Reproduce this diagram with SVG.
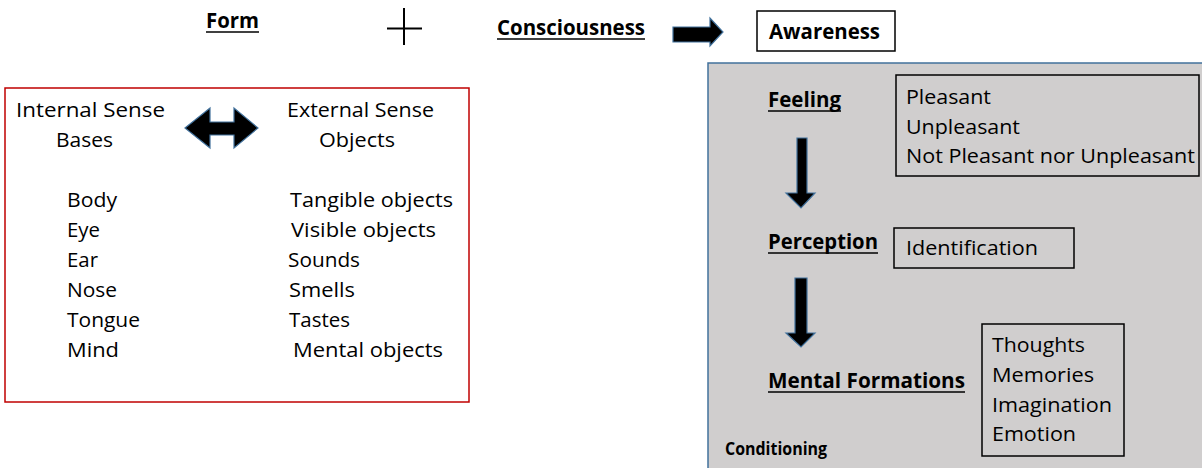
<svg xmlns="http://www.w3.org/2000/svg" width="1202" height="468" viewBox="0 0 1202 468">
<style>
.t{font-family:"Open Sans","Liberation Sans",sans-serif;font-size:20.5px;fill:#000}
.b{font-family:"Open Sans","Liberation Sans",sans-serif;font-size:21px;font-weight:bold;fill:#000}
.ul{stroke:#000;stroke-width:1.5}
.arr{fill:#000;stroke:#41719C;stroke-width:1.2}
.box{fill:none;stroke:#000;stroke-width:1.5}
</style>
<rect width="1202" height="468" fill="#fff"/>
<g id="form">
<text class="b" x="206" y="28" textLength="53" lengthAdjust="spacingAndGlyphs">Form</text>
<line class="ul" x1="206" y1="32" x2="259" y2="32"/>
</g>
<g id="plus">
<line x1="387" y1="28.5" x2="422" y2="28.5" stroke="#000" stroke-width="2"/>
<line x1="404" y1="8" x2="404" y2="45" stroke="#000" stroke-width="2"/>
</g>
<g id="consciousness">
<text class="b" x="497" y="35" textLength="148" lengthAdjust="spacingAndGlyphs">Consciousness</text>
<line class="ul" x1="497" y1="39" x2="645" y2="39"/>
</g>
<g id="awareness">
<rect class="box" x="757" y="11" width="138" height="40" fill="#fff"/>
<text class="b" x="769" y="39" textLength="111" lengthAdjust="spacingAndGlyphs">Awareness</text>
</g>
<g id="sense">
<rect x="5" y="88" width="464" height="314" fill="none" stroke="#C00000" stroke-width="1.5"/>
<text class="t" x="16" y="117" textLength="149" lengthAdjust="spacingAndGlyphs">Internal  Sense</text>
<text class="t" x="56" y="147" textLength="57" lengthAdjust="spacingAndGlyphs">Bases</text>
<text class="t" x="287" y="117" textLength="147" lengthAdjust="spacingAndGlyphs">External Sense</text>
<text class="t" x="319" y="147" textLength="76" lengthAdjust="spacingAndGlyphs">Objects</text>
<text class="t" x="67" y="207" textLength="50" lengthAdjust="spacingAndGlyphs">Body</text>
<text class="t" x="67" y="237" textLength="33" lengthAdjust="spacingAndGlyphs">Eye</text>
<text class="t" x="67" y="267" textLength="31" lengthAdjust="spacingAndGlyphs">Ear</text>
<text class="t" x="67" y="297" textLength="50" lengthAdjust="spacingAndGlyphs">Nose</text>
<text class="t" x="67" y="327" textLength="73" lengthAdjust="spacingAndGlyphs">Tongue</text>
<text class="t" x="67" y="357" textLength="52" lengthAdjust="spacingAndGlyphs">Mind</text>
<text class="t" x="290" y="207" textLength="163" lengthAdjust="spacingAndGlyphs">Tangible objects</text>
<text class="t" x="291" y="237" textLength="145" lengthAdjust="spacingAndGlyphs">Visible objects</text>
<text class="t" x="288" y="267" textLength="72" lengthAdjust="spacingAndGlyphs">Sounds</text>
<text class="t" x="289" y="297" textLength="66" lengthAdjust="spacingAndGlyphs">Smells</text>
<text class="t" x="289" y="327" textLength="61" lengthAdjust="spacingAndGlyphs">Tastes</text>
<text class="t" x="293" y="357" textLength="150" lengthAdjust="spacingAndGlyphs">Mental objects</text>
</g>
<g id="aggregates">
<rect x="708" y="63" width="500" height="410" fill="#D0CECE" stroke="#41719C" stroke-width="1.5"/>
</g>
<g id="feeling">
<text class="b" x="768" y="106.5" textLength="73" lengthAdjust="spacingAndGlyphs">Feeling</text>
<line class="ul" x1="768" y1="111" x2="841" y2="111"/>
</g>
<g id="feeling-types">
<rect class="box" x="896" y="75" width="303" height="101"/>
<text class="t" x="906" y="103.5" textLength="85" lengthAdjust="spacingAndGlyphs">Pleasant</text>
<text class="t" x="906" y="133.5" textLength="114" lengthAdjust="spacingAndGlyphs">Unpleasant</text>
<text class="t" x="906" y="163" textLength="289" lengthAdjust="spacingAndGlyphs">Not Pleasant nor Unpleasant</text>
</g>
<g id="perception">
<text class="b" x="768" y="249" textLength="110" lengthAdjust="spacingAndGlyphs">Perception</text>
<line class="ul" x1="768" y1="253" x2="878" y2="253"/>
</g>
<g id="identification">
<rect class="box" x="894" y="228" width="180" height="40"/>
<text class="t" x="906" y="255" textLength="132" lengthAdjust="spacingAndGlyphs">Identification</text>
</g>
<g id="mental-formations">
<text class="b" x="768" y="388" textLength="197" lengthAdjust="spacingAndGlyphs">Mental Formations</text>
<line class="ul" x1="768" y1="392" x2="965" y2="392"/>
</g>
<g id="formation-types">
<rect class="box" x="982" y="324" width="142" height="132"/>
<text class="t" x="992" y="352" textLength="93" lengthAdjust="spacingAndGlyphs">Thoughts</text>
<text class="t" x="992" y="382" textLength="102" lengthAdjust="spacingAndGlyphs">Memories</text>
<text class="t" x="992" y="412" textLength="120" lengthAdjust="spacingAndGlyphs">Imagination</text>
<text class="t" x="992" y="441" textLength="84" lengthAdjust="spacingAndGlyphs">Emotion</text>
</g>
<g id="conditioning">
<text class="b" x="725" y="454.5" style="font-size:17.5px" textLength="102" lengthAdjust="spacingAndGlyphs">Conditioning</text>
</g>
<g id="connectors">
<path class="arr" d="M673,27 L710,27 L710,18 L723,32 L710,46 L710,42 L673,42 Z"/>
<path class="arr" d="M185,128 L210,108 L210,122 L234,122 L234,108 L258,128 L234,148 L234,135 L210,135 L210,148 Z"/>
<path class="arr" d="M797,138 L807,138 L807,193 L815,193 L801,208 L786,193 L797,193 Z"/>
<path class="arr" d="M795,278 L807,278 L807,333 L815,333 L801,347 L786,333 L795,333 Z"/>
</g>
</svg>
